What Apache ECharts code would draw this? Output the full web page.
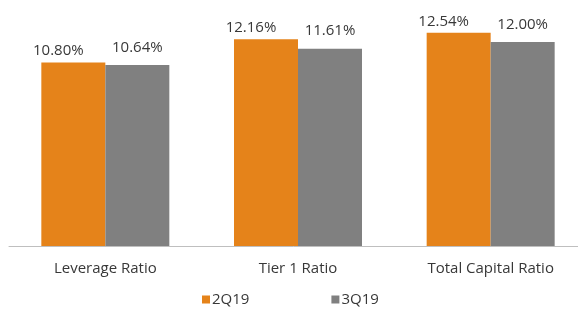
<!DOCTYPE html>
<html>
<head>
<meta charset="utf-8">
<script src="https://cdn.jsdelivr.net/npm/echarts@6/dist/echarts.min.js"></script>
<style>
  html, body { margin: 0; padding: 0; background: #fff; }
  #chart { width: 578px; height: 309px; }
</style>
</head>
<body>
<div id="chart"></div>
<script>
const categories = ['Leverage Ratio', 'Tier 1 Ratio', 'Total Capital Ratio'];
const seriesNames = ['2Q19', '3Q19'];
const values2Q19 = [10.80, 12.16, 12.54];
const values3Q19 = [10.64, 11.61, 12.00];

const chart = echarts.init(document.getElementById('chart'));
const fontFamily = '"Open Sans", sans-serif';
const textColor = '#383838';

function pctLabel(p) {
  return p.value.toFixed(2) + '%';
}

const option = {
  animation: false,
  textStyle: { fontFamily: fontFamily },
  // plot runs a bit past the right edge, like the source image
  grid: { left: 9, top: 8, width: 578, height: 238, containLabel: false, outerBoundsMode: 'none' },
  legend: {
    left: 202,
    top: 292,
    padding: 0,
    itemWidth: 8,
    itemHeight: 8,
    itemGap: 82,
    icon: 'rect',
    textStyle: { fontFamily: fontFamily, fontSize: 15, color: textColor, padding: [0, 0, 0, -3] },
    data: seriesNames
  },
  xAxis: {
    type: 'category',
    data: categories,
    axisLine: { lineStyle: { color: '#BFBFBF', width: 1 } },
    axisTick: { alignWithLabel: true, length: 5, lineStyle: { color: '#BFBFBF' } },
    axisLabel: { fontFamily: fontFamily, fontSize: 15, color: textColor, margin: 15 }
  },
  yAxis: {
    type: 'value',
    min: 0,
    max: 14,
    show: false,
    splitLine: { show: false }
  },
  series: [
    {
      name: seriesNames[0],
      type: 'bar',
      data: values2Q19,
      barWidth: 64,
      barGap: '0%',
      itemStyle: { color: '#E5831A' },
      label: {
        show: true,
        position: 'top',
        distance: 4,
        offset: [-15, 0],
        formatter: pctLabel,
        fontFamily: fontFamily,
        fontSize: 15,
        color: textColor
      }
    },
    {
      name: seriesNames[1],
      type: 'bar',
      data: values3Q19,
      barWidth: 64,
      barGap: '0%',
      itemStyle: { color: '#808080' },
      label: {
        show: true,
        position: 'top',
        distance: 10,
        formatter: pctLabel,
        fontFamily: fontFamily,
        fontSize: 15,
        color: textColor
      }
    }
  ]
};

chart.setOption(option);
</script>
</body>
</html>
